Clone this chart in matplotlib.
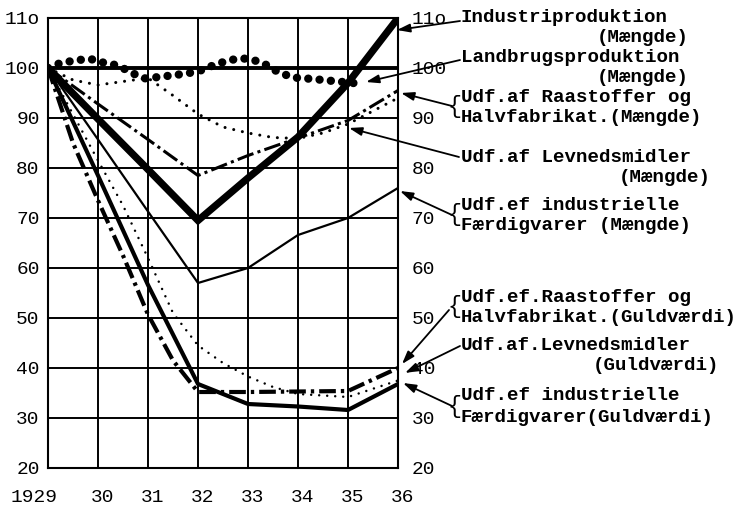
import matplotlib
matplotlib.use("Agg")
import matplotlib.pyplot as plt
from matplotlib.transforms import ScaledTranslation

# index, 1929 = 100
years = [1929, 1930, 1931, 1932, 1933, 1934, 1935, 1936]
year_labels = ["1929", "30", "31", "32", "33", "34", "35", "36"]
y_ticks = [20, 30, 40, 50, 60, 70, 80, 90, 100, 110]
y_labels = ["20", "30", "40", "50", "60", "70", "80", "90", "100", "11o"]

industri = [100, 89.8, 79.7, 69.5, 78, 86.2, 97, 110]

landbrug_years = [1929, 1929.25, 1929.6, 1929.85, 1930.1, 1930.4, 1930.7, 1930.95,
                  1931.3, 1931.7, 1932.0, 1932.4, 1932.75, 1933.0, 1933.3, 1933.6,
                  1933.9, 1934.3, 1934.7, 1935.2]
landbrug = [100, 101.0, 101.6, 101.8, 101.1, 100.5, 98.9, 97.9,
            98.3, 98.8, 99.3, 100.9, 101.8, 101.9, 101.0, 99.2,
            98.1, 97.8, 97.4, 96.9]

raastof_maengde = [100, 92.8, 85.7, 78.5, 82.5, 86, 89.5, 95.5]

levned_maengde_years = [1929, 1929.5, 1930, 1930.5, 1931, 1931.5, 1932, 1932.5,
                        1933, 1933.5, 1934, 1934.5, 1935, 1936]
levned_maengde = [100, 97.6, 96.6, 97.3, 98.0, 94.5, 90.8, 88.2,
                  87.0, 86.1, 85.9, 87.0, 88.8, 94.0]

faerdig_maengde = [100, 85.7, 71.3, 57, 60, 66.6, 70, 76]

raastof_guld_years = [1929, 1929.5, 1930, 1930.5, 1931, 1931.5, 1932, 1933, 1934, 1935, 1936]
raastof_guld = [100, 85, 73.5, 62.5, 50.7, 41.5, 35.2, 35.2, 35.3, 35.4, 40]

levned_guld_years = [1929, 1930, 1930.5, 1931, 1931.5, 1932, 1932.5, 1933, 1933.5, 1934, 1935, 1936]
levned_guld = [100, 81.5, 72.5, 62, 51, 44.5, 41, 38.3, 36.2, 34.8, 34.2, 37.5]

faerdig_guld = [100, 78.5, 56.6, 36.8, 32.8, 32.3, 31.6, 36.8]

W, H = 741, 508
FONT = "Liberation Mono"


def fx(px):
    return px / W


def fy(py):
    return 1 - py / H


fig = plt.figure(figsize=(W / 100, H / 100), dpi=100)
ax = fig.add_axes([fx(48), fy(468), 350 / W, 450 / H])

ax.set_xlim(1929, 1936)
ax.set_ylim(20, 110)

# grid drawn by hand so the 100 base line can be heavier
for y in y_ticks:
    ax.axhline(y, color="black", lw=2.8 if y == 100 else 1.4, zorder=1)
for x in years:
    ax.axvline(x, color="black", lw=1.4, zorder=1)
for s in ax.spines.values():
    s.set_linewidth(1.5)

ax.plot(years, industri, color="black", lw=5.2, solid_joinstyle="miter", zorder=5)
ax.plot(landbrug_years, landbrug, color="black", lw=6, linestyle=(0, (0.01, 1.35)),
        dash_capstyle="round", zorder=4)
ax.plot(years, raastof_maengde, color="black", lw=2.2,
        linestyle=(0, (5.5, 1.4, 1.0, 1.4)), zorder=3)
ax.plot(levned_maengde_years, levned_maengde, color="black", lw=2.2,
        linestyle=(0, (0.01, 2.9)), dash_capstyle="round", zorder=3)
ax.plot(years, faerdig_maengde, color="black", lw=1.6, zorder=3)
ax.plot(raastof_guld_years, raastof_guld, color="black", lw=3,
        linestyle=(0, (4.0, 1.2, 0.8, 1.2)), zorder=3)
ax.plot(levned_guld_years, levned_guld, color="black", lw=1.8,
        linestyle=(0, (0.01, 3.2)), dash_capstyle="round", zorder=3)
ax.plot(years, faerdig_guld, color="black", lw=3, zorder=3)

ax.set_xticks(years)
ax.set_xticklabels(year_labels, fontfamily=FONT, fontsize=14)
ax.set_yticks(y_ticks)
ax.set_yticklabels(y_labels, fontfamily=FONT, fontsize=14)
ax.tick_params(axis="x", length=0, pad=15)
ax.tick_params(axis="y", length=0, pad=6)

for i, lbl in enumerate(ax.get_xticklabels()):
    dx = -10 if i == 0 else 3
    lbl.set_transform(lbl.get_transform() + ScaledTranslation(dx / 72, 0, fig.dpi_scale_trans))

right = ax.twinx()
right.set_ylim(ax.get_ylim())
right.set_yticks(y_ticks)
right.set_yticklabels(y_labels, fontfamily=FONT, fontsize=14)
right.tick_params(axis="y", length=0, pad=10)
for s in right.spines.values():
    s.set_visible(False)

# series labels on the right, one entry per text line: (text, x, y, align)
label_lines = [
    ("Industriproduktion", 461, 17, "left"),
    ("(Mængde)", 689, 37, "right"),
    ("Landbrugsproduktion", 461, 57, "left"),
    ("(Mængde)", 689, 77, "right"),
    ("Udf.af Raastoffer og", 461, 97, "left"),
    ("Halvfabrikat.(Mængde)", 461, 117, "left"),
    ("Udf.af Levnedsmidler", 461, 157, "left"),
    ("(Mængde)", 711, 177, "right"),
    ("Udf.ef industrielle", 461, 205, "left"),
    ("Færdigvarer (Mængde)", 461, 225, "left"),
    ("Udf.ef.Raastoffer og", 461, 297, "left"),
    ("Halvfabrikat.(Guldværdi)", 461, 318, "left"),
    ("Udf.af.Levnedsmidler", 461, 346, "left"),
    ("(Guldværdi)", 719, 366, "right"),
    ("Udf.ef industrielle", 461, 396, "left"),
    ("Færdigvarer(Guldværdi)", 461, 417, "left"),
]
for text, x, y, ha in label_lines:
    fig.text(fx(x), fy(y), text, ha=ha, va="center", fontsize=13.8,
             fontfamily=FONT, fontweight="bold")

# braces grouping two-line labels
for y in [107, 215, 307, 406]:
    fig.text(fx(454), fy(y), "{", ha="center", va="center", fontsize=17, fontfamily=FONT)

# arrows: (tail in figure pixels, head in data coordinates)
arrows = [
    ((460, 21), (1935.98, 107.6)),
    ((460, 60), (1935.36, 97.2)),
    ((452, 106), (1936.06, 95.0)),
    ((459, 157), (1935.02, 88.0)),
    ((452, 215), (1936.04, 75.4)),
    ((449, 310), (1936.08, 40.8)),
    ((460, 346), (1936.14, 39.0)),
    ((452, 406), (1936.10, 37.0)),
]
for (tx, ty), head in arrows:
    ax.annotate("", xy=head, xycoords="data", xytext=(fx(tx), fy(ty)),
                textcoords="figure fraction", annotation_clip=False,
                arrowprops=dict(arrowstyle="-|>,head_length=0.55,head_width=0.18",
                                color="black", lw=1.3, shrinkA=0, shrinkB=0,
                                mutation_scale=14))

fig.savefig("out.png", dpi=100)
